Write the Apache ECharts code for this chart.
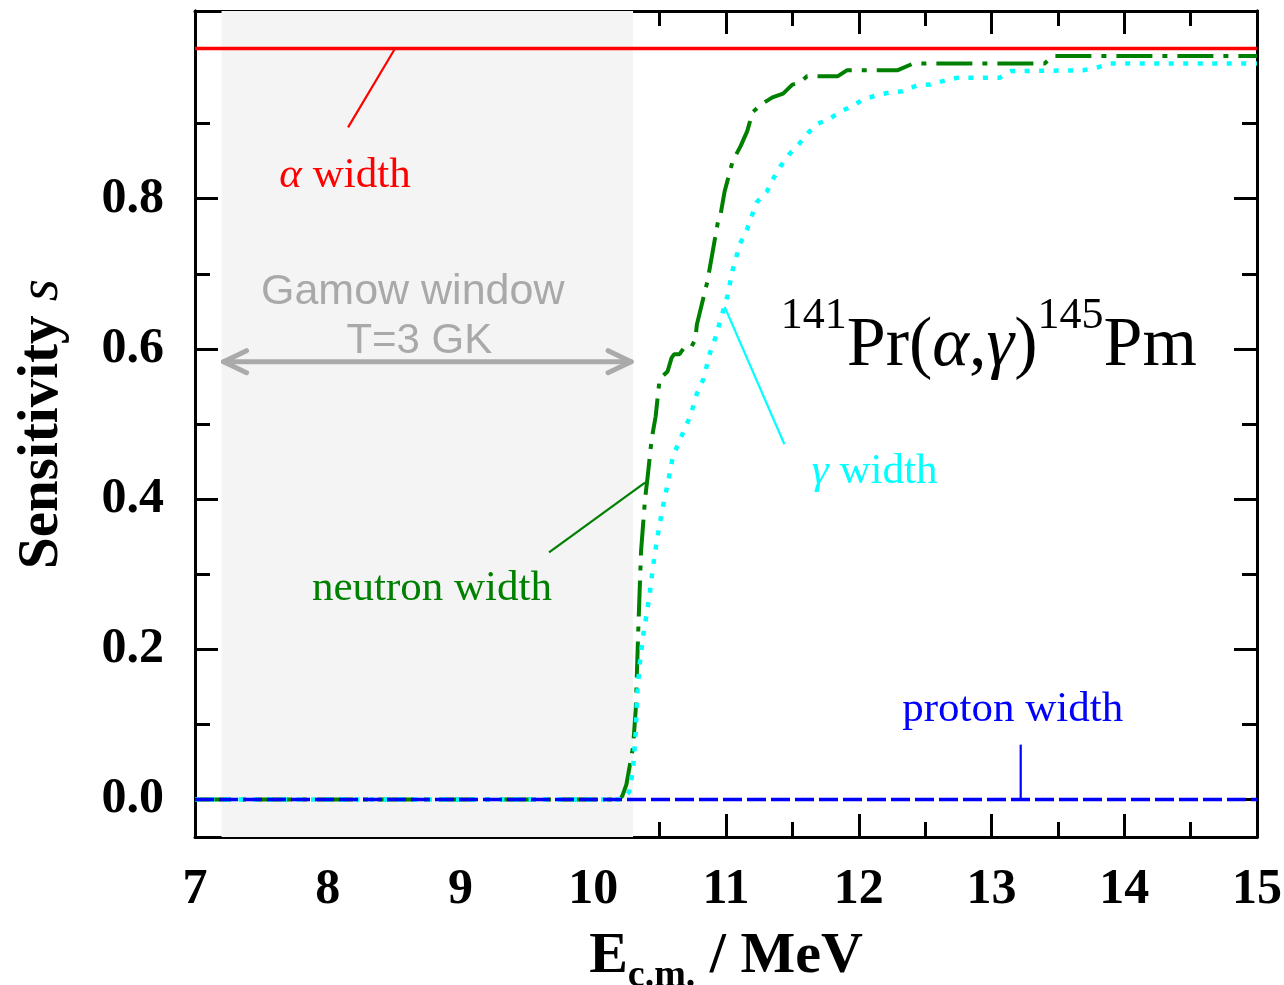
<!DOCTYPE html>
<html>
<head>
<meta charset="utf-8">
<script src="https://cdn.jsdelivr.net/npm/echarts@6/dist/echarts.min.js"></script>
<style>
  html, body { margin: 0; padding: 0; background: #ffffff; }
  #chart { width: 1284px; height: 985px; }
</style>
</head>
<body>
<div id="chart"></div>
<script>
// ---- data ----------------------------------------------------------------
const xTickValues = [7, 8, 9, 10, 11, 12, 13, 14, 15];
const yLabelValues = [0, 0.2, 0.4, 0.6, 0.8];
const yMajorTicks = [0, 0.2, 0.4, 0.6, 0.8, 1.0];
const yMinorTicks = [0.1, 0.3, 0.5, 0.7, 0.9];

// sensitivity of the cross section to each width, vs. E_c.m. (MeV)
const alphaWidth = [[7, 1], [15, 1]];
const protonWidth = [[7, 0], [15, 0]];
const neutronWidth = [
  [7, 0], [10.2, 0], [10.22, 0.005], [10.25, 0.02], [10.30, 0.07], [10.32, 0.12],
  [10.34, 0.23], [10.36, 0.33], [10.39, 0.40], [10.41, 0.43], [10.44, 0.48],
  [10.47, 0.51], [10.50, 0.56], [10.56, 0.57], [10.59, 0.588], [10.61, 0.593],
  [10.65, 0.593], [10.69, 0.603], [10.74, 0.603], [10.77, 0.613], [10.78, 0.632],
  [10.86, 0.69], [10.90, 0.73], [10.94, 0.77], [10.96, 0.78], [10.99, 0.81],
  [11.05, 0.85], [11.11, 0.87], [11.16, 0.89], [11.20, 0.915], [11.26, 0.925],
  [11.35, 0.935], [11.43, 0.94], [11.50, 0.952], [11.56, 0.955], [11.61, 0.963],
  [11.84, 0.963], [11.91, 0.971], [12.29, 0.971], [12.41, 0.98], [13.40, 0.98],
  [13.46, 0.99], [15, 0.99]
];
const gammaWidth = [
  [7, 0], [10.22, 0], [10.27, 0.01], [10.30, 0.04], [10.32, 0.09], [10.33, 0.137],
  [10.35, 0.18], [10.375, 0.217], [10.405, 0.25], [10.43, 0.28], [10.45, 0.31],
  [10.48, 0.346], [10.52, 0.386], [10.56, 0.42], [10.60, 0.457], [10.68, 0.49],
  [10.73, 0.51], [10.78, 0.54], [10.83, 0.56], [10.88, 0.595], [10.92, 0.615],
  [11.01, 0.67], [11.05, 0.705], [11.105, 0.74], [11.16, 0.76], [11.23, 0.795],
  [11.31, 0.81], [11.35, 0.825], [11.41, 0.843], [11.48, 0.86], [11.56, 0.875],
  [11.62, 0.888], [11.69, 0.9], [11.77, 0.905], [11.86, 0.916], [11.95, 0.923],
  [12.03, 0.932], [12.14, 0.938], [12.25, 0.942], [12.33, 0.943], [12.44, 0.951],
  [12.54, 0.952], [12.64, 0.957], [12.74, 0.961], [13.06, 0.961], [13.15, 0.97],
  [13.69, 0.971], [13.80, 0.975], [13.89, 0.98], [15, 0.98]
];
// Gamow window for T = 3 GK (MeV)
const gamowWindow = [7.2, 10.3];

// ---- styling ---------------------------------------------------------------
const SERIF = '"Liberation Serif", "Times New Roman", serif';
const SANS = '"Liberation Sans", Arial, sans-serif';
const AXIS_W = 3;
const X_MIN = 7, X_MAX = 15, Y_MIN = -0.05, Y_MAX = 1.05;

const tickLabelStyle = { fontFamily: SERIF, fontWeight: 'bold', fontSize: 50, color: '#000' };

function xAxisDef(pos, showLabels) {
  return {
    type: 'value', position: pos, min: X_MIN, max: X_MAX, interval: 1,
    axisLine: { show: true, onZero: false, lineStyle: { color: '#000', width: AXIS_W } },
    axisTick: { show: true, inside: true, length: 23, lineStyle: { color: '#000', width: AXIS_W } },
    minorTick: { show: true, splitNumber: 2, length: 15, lineStyle: { color: '#000', width: AXIS_W } },
    splitLine: { show: false }, minorSplitLine: { show: false },
    axisLabel: Object.assign({ show: showLabels, margin: 28 }, tickLabelStyle)
  };
}
function yAxisDef(pos, ticks, len, labels) {
  return {
    type: 'value', position: pos, min: Y_MIN, max: Y_MAX,
    axisLine: { show: true, onZero: false, lineStyle: { color: '#000', width: AXIS_W } },
    axisTick: { show: true, inside: true, length: len, customValues: ticks,
                lineStyle: { color: '#000', width: AXIS_W } },
    splitLine: { show: false },
    axisLabel: labels
      ? Object.assign({ show: true, margin: 31, customValues: yLabelValues,
                        formatter: v => v.toFixed(1) }, tickLabelStyle)
      : { show: false }
  };
}

const xBottom = xAxisDef('bottom', true);
xBottom.name = '{e|E}{s|c.m.}{e| / MeV}';
xBottom.nameLocation = 'middle';
xBottom.nameGap = 90;
xBottom.nameTextStyle = {
  rich: {
    e: { fontFamily: SERIF, fontWeight: 'bold', fontSize: 58, lineHeight: 60, color: '#000' },
    s: { fontFamily: SERIF, fontWeight: 'bold', fontSize: 38, lineHeight: 20, height: 22,
         verticalAlign: 'bottom', color: '#000' }
  }
};

const yLeft = yAxisDef('left', yMajorTicks, 23, true);
yLeft.name = '{b|Sensitivity }{i|s}';
yLeft.nameLocation = 'middle';
yLeft.nameRotate = 90;
yLeft.nameGap = 124;
yLeft.nameTextStyle = {
  rich: {
    b: { fontFamily: SERIF, fontWeight: 'bold', fontSize: 57, color: '#000' },
    i: { fontFamily: SERIF, fontStyle: 'italic', fontSize: 57, color: '#000' }
  }
};

const option = {
  animation: false,
  backgroundColor: '#ffffff',
  grid: { left: 195, right: 27, top: 11, bottom: 148, containLabel: false, outerBoundsMode: 'none' },
  xAxis: [xBottom, xAxisDef('top', false)],
  yAxis: [
    yLeft,
    yAxisDef('left', yMinorTicks, 15, false),
    yAxisDef('right', yMajorTicks, 23, false),
    yAxisDef('right', yMinorTicks, 15, false)
  ],
  series: [
    { // Gamow window shading
      type: 'line', data: [], z: 1, silent: true,
      markArea: {
        silent: true,
        itemStyle: { color: '#f4f4f4' },
        data: [[{ xAxis: gamowWindow[0] }, { xAxis: gamowWindow[1] }]]
      }
    },
    {
      name: 'neutron width', type: 'line', data: neutronWidth, z: 3,
      showSymbol: false, silent: true,
      lineStyle: { color: '#008000', width: 4, type: [36, 10, 5, 10], cap: 'butt' }
    },
    {
      name: 'gamma width', type: 'line', data: gammaWidth, z: 4,
      showSymbol: false, silent: true,
      lineStyle: { color: '#00ffff', width: 4.5, type: [5, 9.5], cap: 'butt' }
    },
    {
      name: 'proton width', type: 'line', data: protonWidth, z: 5,
      showSymbol: false, silent: true,
      lineStyle: { color: '#0000ff', width: 3.5, type: [19, 5], cap: 'butt' }
    },
    {
      name: 'alpha width', type: 'line', data: alphaWidth, z: 6,
      showSymbol: false, silent: true,
      lineStyle: { color: '#ff0000', width: 3.5 }
    }
  ]
};

const chart = echarts.init(document.getElementById('chart'), null, { renderer: 'canvas' });
chart.setOption(option);

// ---- annotations, placed in data coordinates ----------------------------------
const px = (x, y) => chart.convertToPixel({ gridIndex: 0 }, [x, y]);

function pointer(a, b, color) {
  const p = px(a[0], a[1]), q = px(b[0], b[1]);
  return { type: 'line', z: 20, silent: true,
           shape: { x1: p[0], y1: p[1], x2: q[0], y2: q[1] },
           style: { stroke: color, lineWidth: 2.2 } };
}
function label(x, y, text, rich) {
  const p = px(x, y);
  return { type: 'text', z: 20, silent: true,
           style: { x: p[0], y: p[1], text: text, rich: rich, align: 'center', verticalAlign: 'middle' } };
}
function widthLabelRich(color) {
  return {
    g: { fontFamily: SERIF, fontStyle: 'italic', fontSize: 43, fill: color },
    t: { fontFamily: SERIF, fontSize: 43, fill: color }
  };
}

const gy = 0.583;
const a0 = px(gamowWindow[0], gy), a1 = px(gamowWindow[1], gy);
const arrowStyle = { stroke: '#aaaaaa', lineWidth: 5, lineCap: 'round', lineJoin: 'round', fill: null };

const graphics = [
  // Gamow window arrow
  { type: 'line', z: 20, silent: true,
    shape: { x1: a0[0] + 2, y1: a0[1], x2: a1[0] - 2, y2: a1[1] }, style: arrowStyle },
  { type: 'polyline', z: 20, silent: true,
    shape: { points: [[a0[0] + 25, a0[1] - 11], [a0[0] + 2, a0[1]], [a0[0] + 25, a0[1] + 11]] },
    style: arrowStyle },
  { type: 'polyline', z: 20, silent: true,
    shape: { points: [[a1[0] - 25, a1[1] - 11], [a1[0] - 2, a1[1]], [a1[0] - 25, a1[1] + 11]] },
    style: arrowStyle },
  label(8.64, 0.676, '{t|Gamow window}',
        { t: { fontFamily: SANS, fontSize: 43, fill: '#a9a9a9' } }),
  label(8.69, 0.61, '{t|T=3 GK}',
        { t: { fontFamily: SANS, fontSize: 42, fill: '#a9a9a9' } }),

  // pointer lines
  pointer([8.153, 0.895], [8.507, 1.0], '#ff0000'),
  pointer([10.99, 0.656], [11.44, 0.473], '#00ffff'),
  pointer([9.667, 0.329], [10.39, 0.422], '#008000'),
  pointer([13.22, 0.073], [13.22, 0.0], '#0000ff'),

  // width labels
  label(8.13, 0.83, '{g|α}{t| width}', widthLabelRich('#ff0000')),
  label(12.12, 0.437, '{g|γ}{t| width}', widthLabelRich('#00ffff')),
  label(8.785, 0.28, '{t|neutron width}', widthLabelRich('#008000')),
  label(13.16, 0.12, '{t|proton width}', widthLabelRich('#0000ff')),

  // reaction
  label(12.98, 0.603, '{sup|141}{m|Pr(}{gi|α}{m|,}{gi|γ}{m|)}{sup|145}{m|Pm}', {
    sup: { fontFamily: SERIF, fontSize: 44, height: 30, verticalAlign: 'top', fill: '#000' },
    m: { fontFamily: SERIF, fontSize: 70, lineHeight: 90, fill: '#000' },
    gi: { fontFamily: SERIF, fontStyle: 'italic', fontSize: 70, lineHeight: 90, fill: '#000' }
  })
];

chart.setOption({ graphic: graphics });
</script>
</body>
</html>
